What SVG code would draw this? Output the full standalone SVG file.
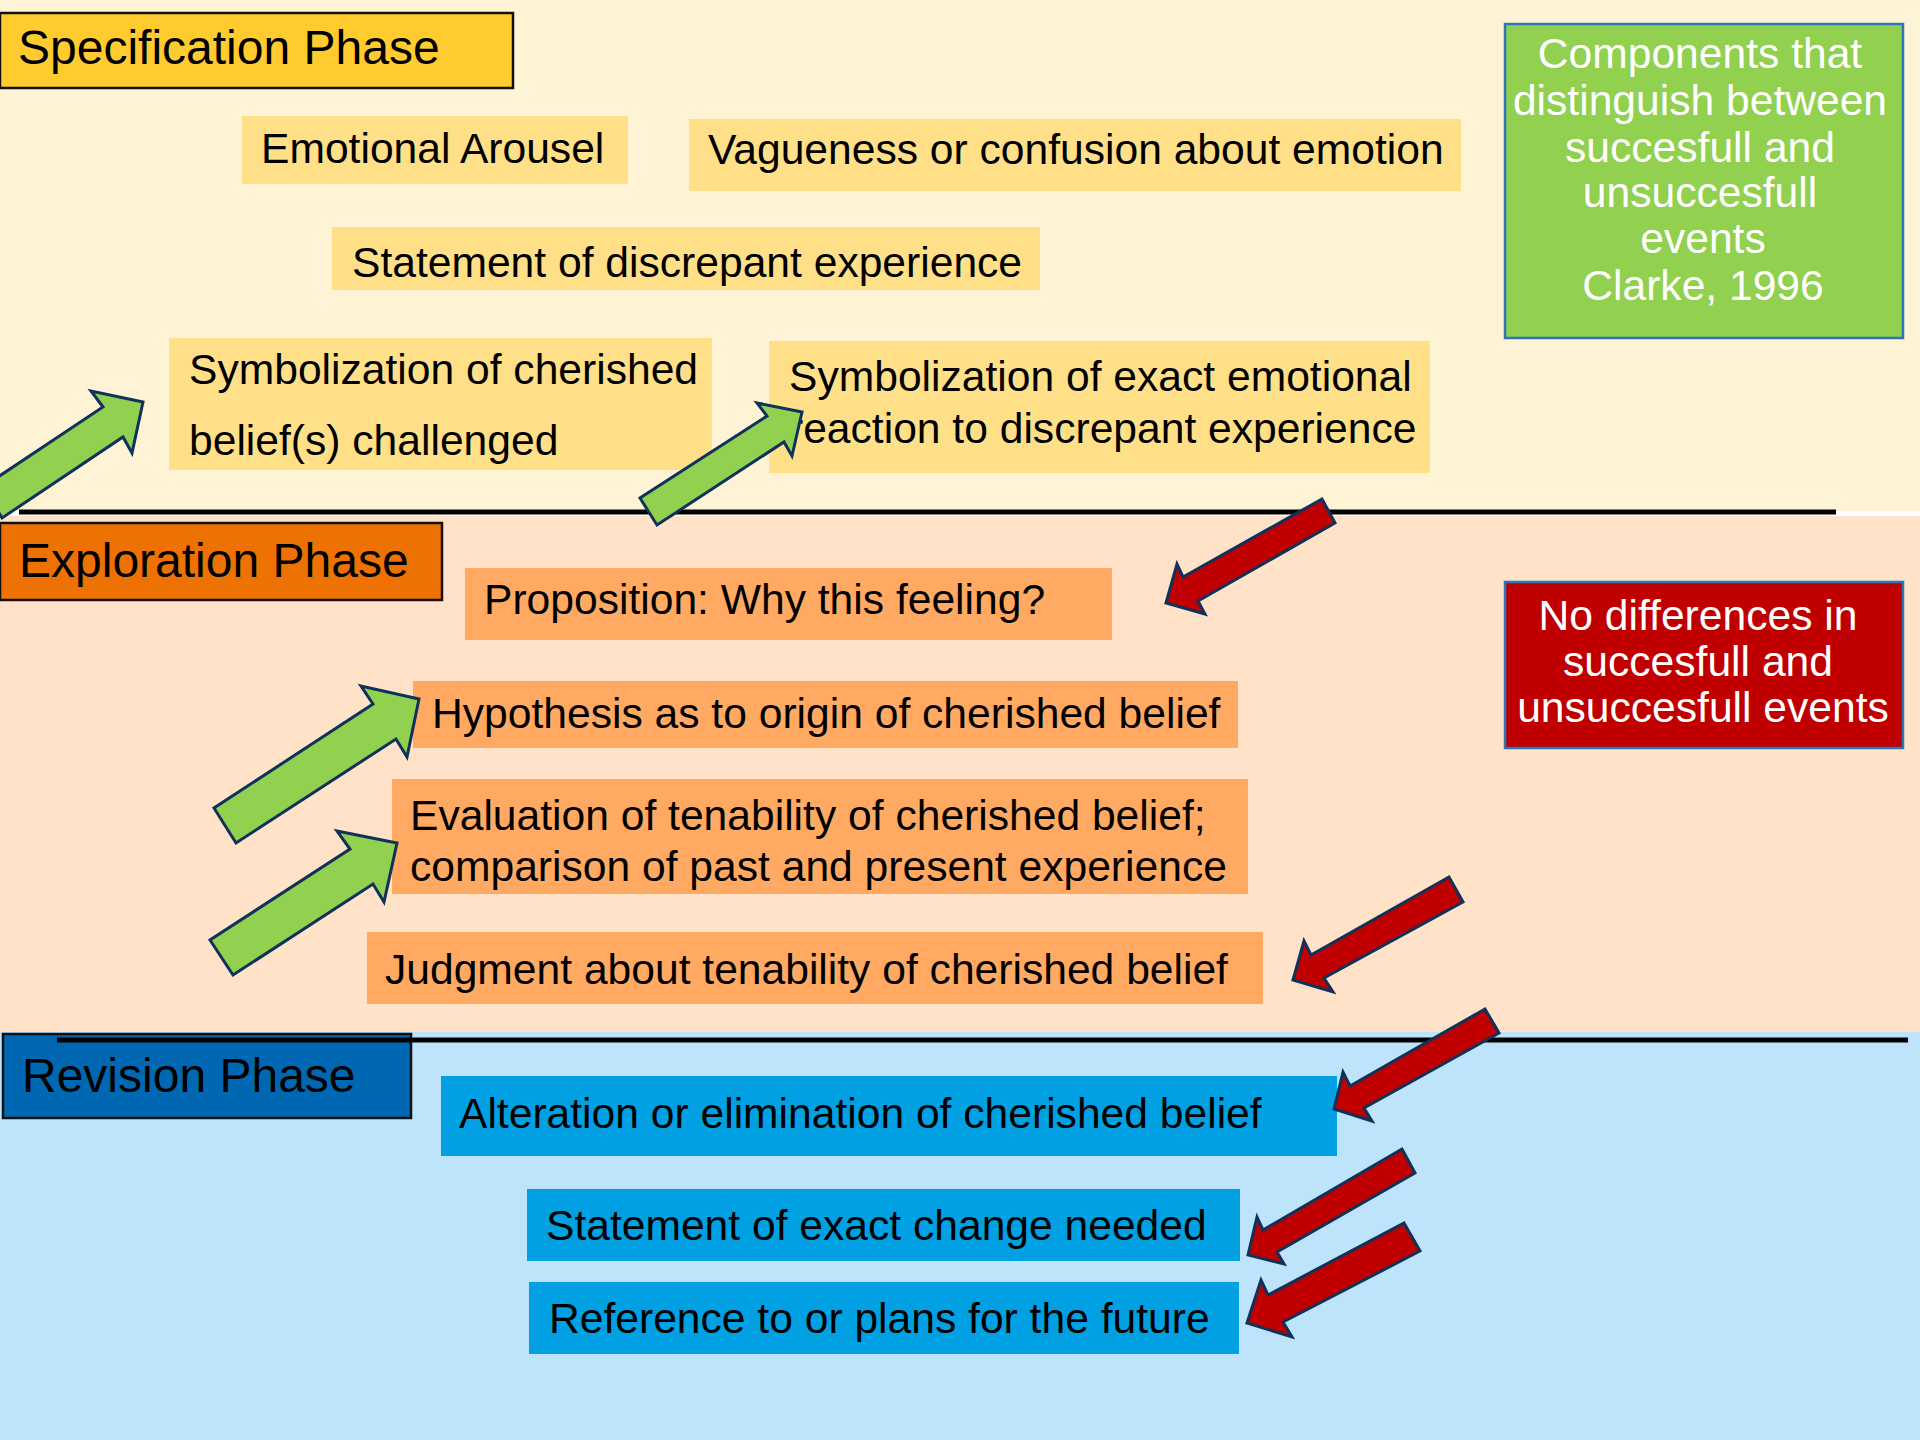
<svg xmlns="http://www.w3.org/2000/svg" width="1920" height="1440" viewBox="0 0 1920 1440">
<style>
text{font-family:"Liberation Sans",Arial,sans-serif;font-size:42.6px;fill:#000}
.ph{font-size:48px}
.w{fill:#fff;text-anchor:middle}
.sp{fill:#FFDF87}
.ex{fill:#FFA962}
.rv{fill:#00A0E2}
.phase{stroke:#111;stroke-width:2.5}
.ga{fill:#92D050;stroke:#10325A;stroke-width:3;stroke-linejoin:miter}
.ra{fill:#C00000;stroke:#10325A;stroke-width:3;stroke-linejoin:miter}
.sep{stroke:#000;stroke-width:5}
</style>
<rect x="0" y="0" width="1920" height="1440" fill="#ffffff"/>
<rect x="0" y="0" width="1920" height="511" fill="#FFF3D6"/>
<rect x="0" y="516" width="1920" height="516" fill="#FFE2C8"/>
<rect x="0" y="1032" width="1920" height="408" fill="#BEE4FC"/>

<g id="spec-phase"><rect class="phase" x="0" y="13" width="513" height="75" fill="#FFCB2F"/><text class="ph" x="18" y="64">Specification Phase</text></g>
<g id="emotional-arousel"><rect class="sp" x="242" y="116" width="386" height="68"/><text x="261" y="163">Emotional Arousel</text></g>
<g id="vagueness"><rect class="sp" x="689" y="119" width="772" height="72"/><text x="708" y="164">Vagueness or confusion about emotion</text></g>
<g id="statement-discrepant"><rect class="sp" x="332" y="227" width="708" height="63"/><text x="352" y="277">Statement of discrepant experience</text></g>
<g id="symbolization-belief"><rect class="sp" x="169" y="338" width="543" height="132"/><text x="189" y="384">Symbolization of cherished</text><text x="189" y="455">belief(s) challenged</text></g>
<g id="symbolization-reaction"><rect class="sp" x="769" y="341" width="661" height="132"/><text x="789" y="391">Symbolization of exact emotional</text><text x="789" y="443">reaction to discrepant experience</text></g>
<g id="components"><rect x="1505" y="24" width="398" height="314" fill="#92D050" stroke="#2E75B6" stroke-width="2.5"/><text class="w" x="1700" y="68">Components that</text><text class="w" x="1700" y="115">distinguish between</text><text class="w" x="1700" y="162">succesfull and</text><text class="w" x="1700" y="207">unsuccesfull</text><text class="w" x="1703" y="253">events</text><text class="w" x="1703" y="300">Clarke, 1996</text></g>

<g id="expl-phase"><rect class="phase" x="0" y="523" width="442" height="77" fill="#EE7203"/><text class="ph" x="19" y="577">Exploration Phase</text></g>
<g id="proposition"><rect class="ex" x="465" y="568" width="647" height="72"/><text x="484" y="614">Proposition: Why this feeling?</text></g>
<g id="hypothesis"><rect class="ex" x="413" y="681" width="825" height="67"/><text x="432" y="728">Hypothesis as to origin of cherished belief</text></g>
<g id="evaluation"><rect class="ex" x="392" y="779" width="856" height="115"/><text x="410" y="830">Evaluation of tenability of cherished belief;</text><text x="410" y="881">comparison of past and present experience</text></g>
<g id="judgment"><rect class="ex" x="367" y="932" width="896" height="72"/><text x="385" y="984">Judgment about tenability of cherished belief</text></g>
<g id="no-differences"><rect x="1505" y="582" width="398" height="166" fill="#C00000" stroke="#2E75B6" stroke-width="2.5"/><text class="w" x="1698" y="630">No differences in</text><text class="w" x="1698" y="676">succesfull and</text><text class="w" x="1703" y="722">unsuccesfull events</text></g>

<g id="rev-phase"><rect class="phase" x="3" y="1034" width="408" height="84" fill="#0068B3"/><text class="ph" x="22" y="1092">Revision Phase</text></g>
<g id="alteration"><rect class="rv" x="441" y="1076" width="896" height="80"/><text x="459" y="1128">Alteration or elimination of cherished belief</text></g>
<g id="exact-change"><rect class="rv" x="527" y="1189" width="713" height="72"/><text x="546" y="1240">Statement of exact change needed</text></g>
<g id="future"><rect class="rv" x="529" y="1282" width="710" height="72"/><text x="549" y="1333">Reference to or plans for the future</text></g>

<g id="separators">
<line class="sep" x1="19" y1="512" x2="1836" y2="512"/>
<line class="sep" x1="57" y1="1040" x2="1908" y2="1040"/>
</g>

<g id="connectors">
<polygon class="ga" points="143,402 91,391 103,407 -17,487 2,518 123,437 132,453"/>
<polygon class="ga" points="802,412 757,403 767,416 640,498 657,525 784,442 792,456"/>
<polygon class="ga" points="419,699 361,686 373,704 214,808 236,843 396,739 407,757"/>
<polygon class="ga" points="397,843 337,831 350,849 210,940 233,975 373,884 384,902"/>
<polygon class="ra" points="1166,603 1177,564 1183,577 1322,499 1335,523 1198,601 1205,614"/>
<polygon class="ra" points="1293,980 1304,941 1311,955 1449,877 1463,902 1324,978 1333,992"/>
<polygon class="ra" points="1334,1109 1343,1072 1350,1086 1485,1009 1499,1033 1364,1108 1372,1121"/>
<polygon class="ra" points="1248,1255 1257,1217 1263,1230 1402,1149 1415,1173 1277,1252 1284,1264"/>
<polygon class="ra" points="1247,1323 1261,1280 1268,1295 1404,1223 1420,1251 1283,1322 1292,1337"/>
</g>
</svg>
